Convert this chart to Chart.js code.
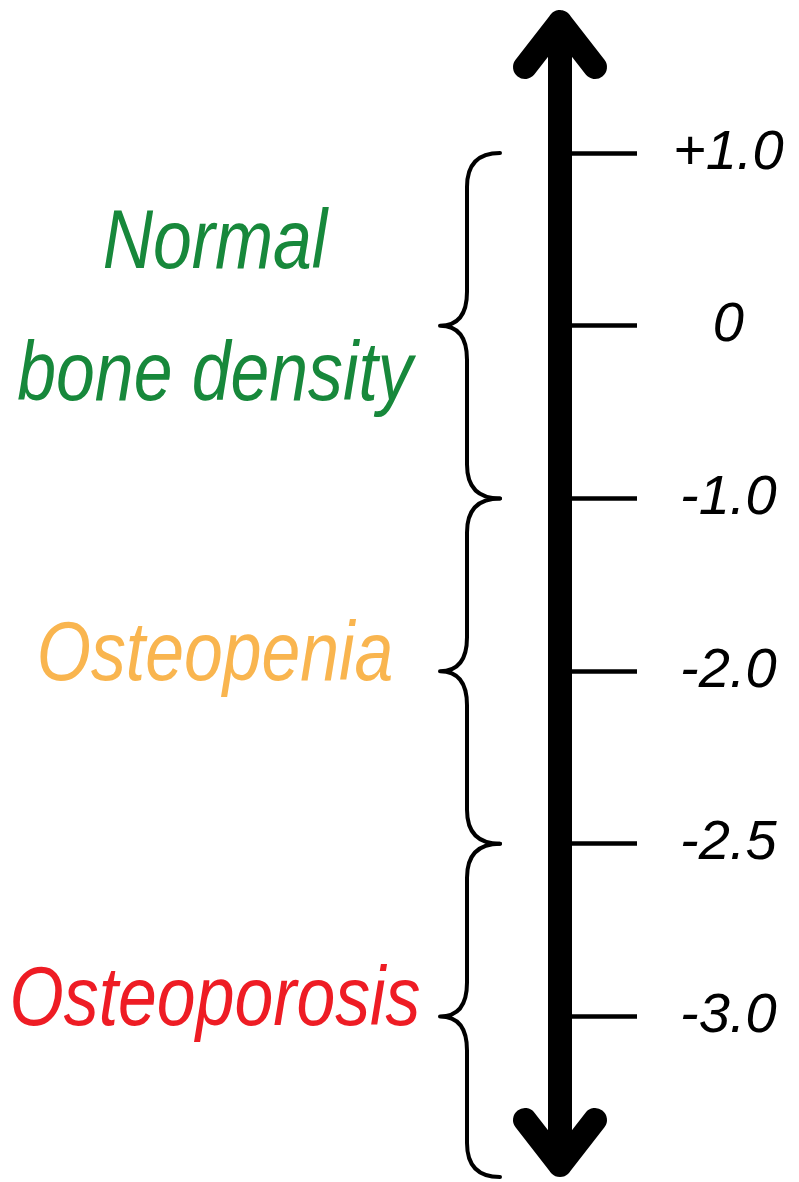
<!DOCTYPE html>
<html><head><meta charset="utf-8">
<script src="https://cdn.jsdelivr.net/npm/chart.js@4.4.0/dist/chart.umd.min.js"></script>
<style>html,body{margin:0;padding:0;background:#fff}#wrap{width:799px;height:1182px;position:relative}</style>
</head><body><div id="wrap"><canvas id="c"></canvas></div>
<script>
// ---- data ----
const tickLabels = ['+1.0', '0', '-1.0', '-2.0', '-2.5', '-3.0'];
const categoryLines = [['Normal', 'bone density'], ['Osteopenia'], ['Osteoporosis']];
const rangeStart = ['+1.0', '-1.0', '-2.5'];
const rangeEnd = ['-1.0', '-2.5', null];   // null: open-ended, runs to the end of the axis
const rangeMark = ['0', '-2.0', '-3.0'];
const categoryColors = ['#17883b', '#f9b54f', '#ee1c24'];

const pos = lbl => tickLabels.indexOf(lbl);

const diagram = {
  id: 'diagram',
  afterDraw(chart) {
    const ctx = chart.ctx, ys = chart.scales.y, area = chart.chartArea;
    const ax = ys.left;
    ctx.save();
    // braces
    ctx.strokeStyle = '#000'; ctx.lineWidth = 4; ctx.lineCap = 'round'; ctx.lineJoin = 'round';
    const hookX = ax - 60, spineX = ax - 93, cuspX = ax - 120, r = 34;
    const labelX = ax - 345;
    rangeStart.forEach((s, i) => {
      const y1 = ys.getPixelForValue(pos(s));
      const y2 = rangeEnd[i] == null ? area.bottom - 5 : ys.getPixelForValue(pos(rangeEnd[i]));
      const ym = ys.getPixelForValue(pos(rangeMark[i]));
      ctx.beginPath();
      ctx.moveTo(hookX, y1);
      ctx.quadraticCurveTo(spineX, y1, spineX, y1 + r);
      ctx.lineTo(spineX, ym - r);
      ctx.quadraticCurveTo(spineX, ym, cuspX, ym);
      ctx.quadraticCurveTo(spineX, ym, spineX, ym + r);
      ctx.lineTo(spineX, y2 - r);
      ctx.quadraticCurveTo(spineX, y2, hookX, y2);
      ctx.stroke();

      const lines = categoryLines[i];
      const lh = 132, cy = ym - 15;
      ctx.font = 'italic 84px "Liberation Sans"';
      ctx.textAlign = 'center'; ctx.textBaseline = 'middle';
      ctx.fillStyle = categoryColors[i];
      lines.forEach((t, k) => {
        const ly = cy + (k - (lines.length - 1) / 2) * lh;
        ctx.save(); ctx.translate(labelX, ly); ctx.scale(0.83, 1); ctx.fillText(t, 0, 0); ctx.restore();
      });
    });
    // double-headed axis arrow
    ctx.strokeStyle = '#000'; ctx.lineWidth = 24; ctx.lineCap = 'round'; ctx.lineJoin = 'round';
    const tTop = area.top + 22, tBot = area.bottom - 17;
    ctx.beginPath();
    ctx.moveTo(ax, tTop); ctx.lineTo(ax, tBot);
    ctx.moveTo(ax - 35, tTop + 45); ctx.lineTo(ax, tTop); ctx.lineTo(ax + 35, tTop + 45);
    ctx.moveTo(ax - 35, tBot - 45); ctx.lineTo(ax, tBot); ctx.lineTo(ax + 35, tBot - 45);
    ctx.stroke();
    ctx.restore();
  }
};

new Chart(document.getElementById('c'), {
  type: 'scatter',
  data: { datasets: [] },
  options: {
    responsive: true, maintainAspectRatio: false, animation: false,
    layout: { padding: 0 },
    plugins: { legend: { display: false }, tooltip: { enabled: false } },
    scales: {
      x: { display: false },
      y: {
        type: 'linear', position: 'right', reverse: true,
        min: -0.886, max: 5.958,
        border: { display: false },
        grid: { drawOnChartArea: false, drawTicks: true, tickLength: 77, tickWidth: 4.5, tickColor: '#000' },
        ticks: {
          autoSkip: false, crossAlign: 'center', padding: 36, color: '#000',
          font: { family: 'Liberation Sans', style: 'italic', size: 56 },
          callback: v => tickLabels[Math.round(v)] ?? ''
        },
        afterBuildTicks: s => { s.ticks = tickLabels.map((_, i) => ({ value: i })); },
        afterFit: s => { s.width = 239; s.paddingTop = 0; s.paddingBottom = 0; }
      }
    }
  },
  plugins: [diagram]
});
</script></body></html>
